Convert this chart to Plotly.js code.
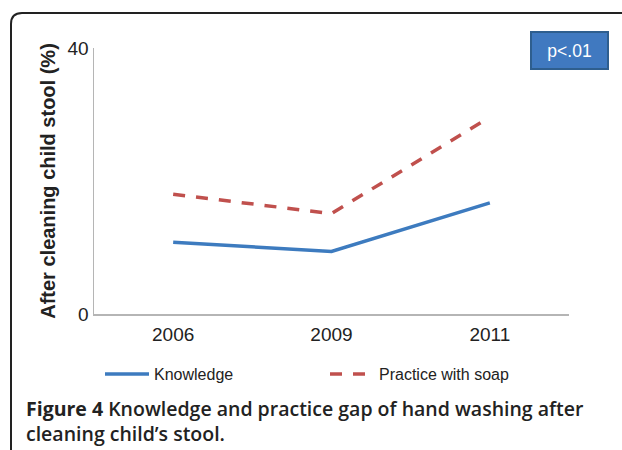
<!DOCTYPE html>
<html>
<head>
<meta charset="utf-8">
<script src="https://cdn.plot.ly/plotly-3.0.1.min.js"></script>
<style>html,body{margin:0;padding:0;background:#fff;}#chart{width:622px;height:450px;}</style>
</head>
<body>
<div id="chart"></div>
<script>
const years = ["2006", "2009", "2011"];
const knowledge = [10.8, 9.4, 16.7];
const practiceWithSoap = [18.0, 15.1, 29.6];
const yTicks = [0, 40];
const seriesNames = ["Knowledge", "Practice with soap"];

const W = 622, H = 450;
const L = 94, R = 53, T = 48, B = 136;
const pw = W - L - R, ph = H - T - B;
const px = X => (X - L) / pw;
const py = Y => (H - B - Y) / ph;

const traces = [
  {x: years, y: knowledge, name: seriesNames[0], type: "scatter", mode: "lines",
   line: {color: "#3D7BBF", width: 3.5}},
  {x: years, y: practiceWithSoap, name: seriesNames[1], type: "scatter", mode: "lines",
   line: {color: "#C0504D", width: 3.5, dash: "12px,11px"}}
];

const border = `M ${px(11)},${py(452)} L ${px(11)},${py(24)} Q ${px(11)},${py(13)} ${px(22)},${py(13)} L ${px(624)},${py(13)}`;

const capFont = {family: "Open Sans, Liberation Sans, sans-serif", size: 19.5, color: "#222", weight: 600};

const layout = {
  width: W, height: H,
  margin: {l: L, r: R, t: T, b: B},
  paper_bgcolor: "#fff", plot_bgcolor: "#fff",
  font: {family: "Liberation Sans, Arial, sans-serif", color: "#222"},
  showlegend: true,
  legend: {orientation: "h", x: px(100), xanchor: "left", y: py(374), yanchor: "middle",
           font: {size: 16, color: "#222"}, itemwidth: 44, entrywidth: 166, tracegroupgap: 0},
  xaxis: {type: "category", range: [-0.5, 2.5], showline: true, linecolor: "#b5b5b5", linewidth: 1.5,
          showgrid: false, zeroline: false, ticks: "", tickfont: {size: 19, color: "#222"}, ticklabelstandoff: 3,
          fixedrange: true},
  yaxis: {range: [0, 40], tickvals: yTicks, showline: true, linecolor: "#b5b5b5", linewidth: 1.5,
          showgrid: false, zeroline: false, ticks: "", tickfont: {size: 19, color: "#222"},
          title: {text: "<b>After cleaning child stool (%)</b>", font: {size: 20, color: "#222"}, standoff: 6},
          fixedrange: true},
  shapes: [
    {type: "path", xref: "paper", yref: "paper", path: border, line: {color: "#222", width: 2}}
  ],
  annotations: [
    {xref: "paper", yref: "paper", x: px(569), y: py(50), xanchor: "center", yanchor: "middle",
     text: "p&lt;.01", showarrow: false, font: {size: 17.5, color: "#fff"},
     bgcolor: "#4079C0", bordercolor: "#2E5E8E", borderwidth: 2, width: 75, height: 35, borderpad: 0},
    {xref: "paper", yref: "paper", x: px(24), y: py(408), xanchor: "left", yanchor: "middle",
     text: "<b>Figure 4</b> Knowledge and practice gap of hand washing after", showarrow: false,
     font: capFont},
    {xref: "paper", yref: "paper", x: px(24), y: py(433), xanchor: "left", yanchor: "middle",
     text: "cleaning child\u2019s stool.", showarrow: false, font: capFont}
  ]
};

Plotly.newPlot("chart", traces, layout, {displayModeBar: false, staticPlot: true});
</script>
</body>
</html>
